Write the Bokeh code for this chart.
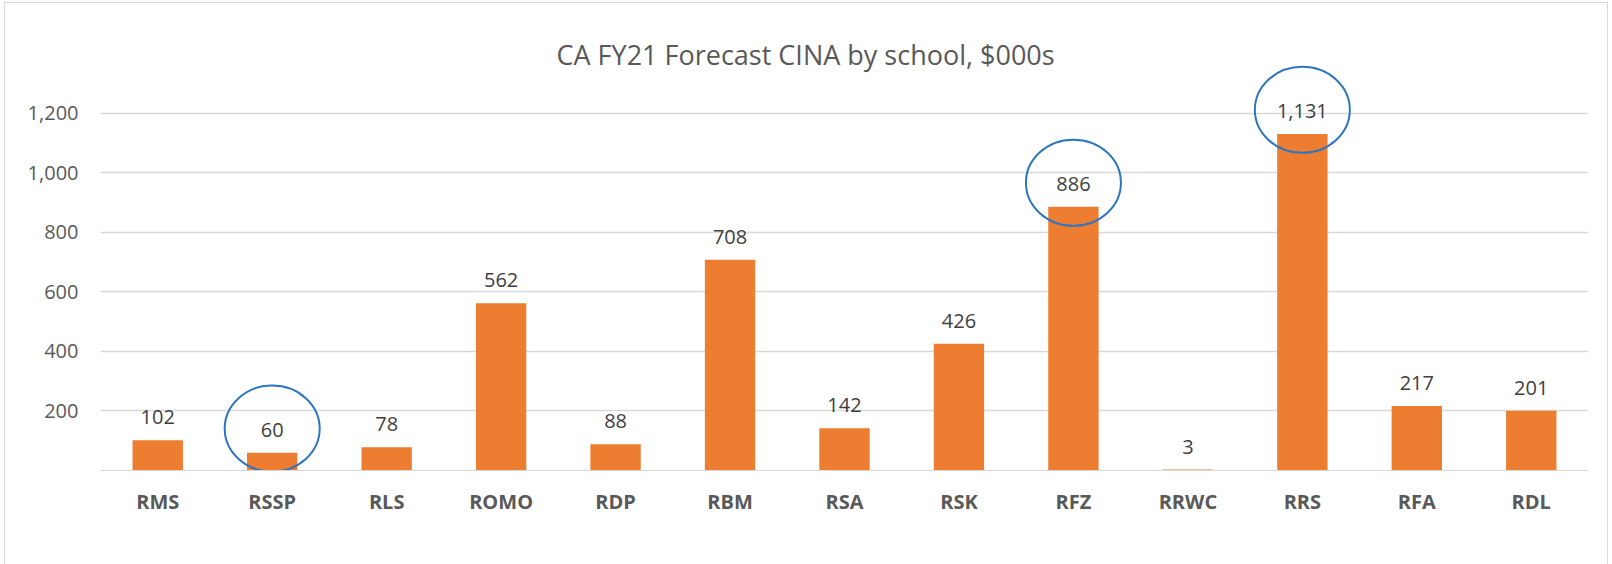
from bokeh.plotting import figure
from bokeh.models import FixedTicker, NumeralTickFormatter, Range1d, FactorRange, Label, ColumnDataSource
from bokeh.core.properties import value
from bokeh.embed import file_html
from bokeh.resources import INLINE

# ---- data ----
schools = ["RMS", "RSSP", "RLS", "ROMO", "RDP", "RBM", "RSA", "RSK", "RFZ", "RRWC", "RRS", "RFA", "RDL"]
cina = [102, 60, 78, 562, 88, 708, 142, 426, 886, 3, 1131, 217, 201]
y_ticks = [200, 400, 600, 800, 1000, 1200]
grid_ticks = [0, 200, 400, 600, 800, 1000, 1200]
highlighted = ["RSSP", "RFZ", "RRS"]
title_text = "CA FY21 Forecast CINA by school, $000s"

FONT = "Open Sans"
BAR = "#ed7d31"
GRID = "#d9d9d9"
AXIS_TXT = "#595959"
LBL_TXT = "#404040"
CIRCLE = "#2e75c0"

p = figure(
    x_range=FactorRange(factors=schools, range_padding=0, factor_padding=0),
    y_range=Range1d(0, 1529),
    width=1602, height=561,
    output_backend="svg", toolbar_location=None, title=None,
    min_border_left=95, min_border_right=19, min_border_top=12, min_border_bottom=94,
)
p.outline_line_color = None
p.background_fill_color = "white"
p.border_fill_color = "white"
p.styles = {"outline": "1px solid #d9d9d9", "margin-left": "5px", "margin-top": "3px"}

src = ColumnDataSource(dict(x=schools, top=cina, lbl=[f"{v:,}" for v in cina]))
p.vbar(x="x", top="top", width=0.44, source=src, fill_color=BAR, line_color=None)

p.text(x="x", y="top", text="lbl", source=src, text_align="center", text_baseline="middle",
       y_offset=-23, text_font=value(FONT), text_font_size="20px", text_color=LBL_TXT)

# highlight ellipses around selected labels
hl_vals = [cina[schools.index(s)] for s in highlighted]
p.ellipse(x=highlighted, y=[v + 81 for v in hl_vals], width=95, height=86,
          width_units="screen", height_units="screen",
          fill_color=None, line_color=CIRCLE, line_width=2)

# title
p.add_layout(Label(x=len(schools) / 2 - 0.34, y=1399, text=title_text,
                   text_align="center", text_baseline="alphabetic", text_font=FONT,
                   text_font_size="27px", text_color=AXIS_TXT))

# axes
p.yaxis.ticker = FixedTicker(ticks=y_ticks)
p.yaxis.formatter = NumeralTickFormatter(format="0,0")
p.yaxis.axis_line_color = None
p.yaxis.major_tick_line_color = None
p.yaxis.major_tick_out = 0
p.yaxis.minor_tick_line_color = None
p.yaxis.major_label_standoff = 22
p.yaxis.major_label_text_font = FONT
p.yaxis.major_label_text_font_size = "20px"
p.yaxis.major_label_text_color = AXIS_TXT

p.xaxis.axis_line_color = GRID
p.xaxis.major_tick_line_color = None
p.xaxis.major_tick_out = 0
p.xaxis.minor_tick_line_color = None
p.xaxis.major_label_standoff = 17
p.xaxis.major_label_text_font = FONT
p.xaxis.major_label_text_font_style = "bold"
p.xaxis.major_label_text_font_size = "20px"
p.xaxis.major_label_text_color = AXIS_TXT

p.xgrid.grid_line_color = None
p.ygrid.ticker = FixedTicker(ticks=grid_ticks)
p.ygrid.grid_line_color = GRID
p.ygrid.grid_line_width = 1.5

open("out.html", "w").write(file_html(p, INLINE))
